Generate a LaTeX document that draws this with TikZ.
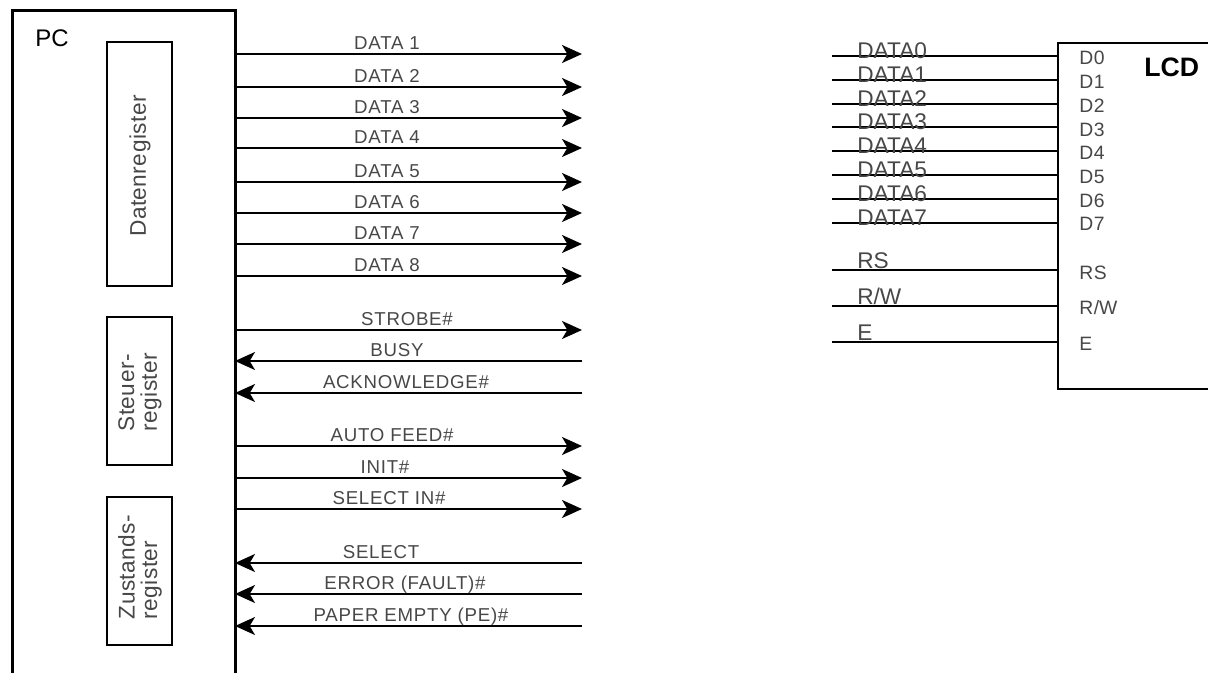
\documentclass[tikz,border=0pt]{standalone}
\usepackage{fontspec}
\setmainfont{Liberation Sans}
\usetikzlibrary{arrows.meta}
\begin{document}
\begin{tikzpicture}[x=0.75pt,y=-0.75pt,
  sig/.style={line width=1.5pt},
  outsig/.style={sig,-{Stealth[length=15pt,width=13.5pt,inset=4pt]}},
  insig/.style={sig,{Stealth[length=15pt,width=13.5pt,inset=4pt]}-},
  lbl/.style={inner sep=0pt,text=black!72,font=\fontsize{14}{16}\selectfont\addfontfeature{LetterSpace=4}},
  rlbl/.style={inner sep=0pt,anchor=base west,text=black!72,font=\fontsize{17}{19}\selectfont},
  pin/.style={inner sep=0pt,anchor=base west,text=black!72,font=\fontsize{14.5}{16}\selectfont\addfontfeature{LetterSpace=3}},
  regbox/.style={draw,line width=1.5pt},
  reglbl/.style={inner sep=0pt,rotate=90,align=left,text=black!72,font=\fontsize{17}{17}\selectfont\addfontfeature{LetterSpace=2}}]
\useasboundingbox (0,0) rectangle (1208,673);
% PC block
\draw[line width=2.25pt] (12,673) -- (12,11) -- (235,11) -- (235,673);
\node[inner sep=0pt,anchor=base west,font=\fontsize{18}{20}\selectfont] (pc) at (35,47) {PC};
% registers
\draw[regbox] (107,42) rectangle (172,286);
\node[reglbl] (dreg) at (140,166) {Datenregister};
\draw[regbox] (107,317) rectangle (172,465);
\node[reglbl] (sreg) at (140,392) {Steuer-\\register};
\draw[regbox] (107,497) rectangle (172,645);
\node[reglbl] (zreg) at (140,567) {Zustands-\\register};
% data lines
\foreach \y/\t [count=\i] in {54/DATA 1,87/DATA 2,118/DATA 3,148/DATA 4,182/DATA 5,213/DATA 6,244/DATA 7,276/DATA 8}{
  \coordinate (dl\i) at (235,\y);
  \coordinate (dr\i) at (582,\y);
  \draw[outsig] (dl\i) -- (dr\i);
  \node[lbl,anchor=base] (dt\i) at (387,\y-4) {\t};
}
% control and status lines
\foreach \y/\t/\c/\s [count=\i] in {
  330/STROBE\#/407/outsig,
  361/BUSY/397/insig,
  393/ACKNOWLEDGE\#/406/insig,
  446/AUTO FEED\#/392/outsig,
  478/INIT\#/385/outsig,
  509/SELECT IN\#/389/outsig,
  563/SELECT/381/insig,
  594/ERROR (FAULT)\#/405/insig,
  626/PAPER EMPTY (PE)\#/411/insig}{
  \coordinate (cl\i) at (235,\y);
  \coordinate (cr\i) at (582,\y);
  \draw[\s] (cl\i) -- (cr\i);
  \node[lbl,anchor=base] (ct\i) at (\c,\y-4) {\t};
}
% LCD block
\draw[line width=1.5pt] (1210,43) -- (1058,43) -- (1058,389) -- (1210,389);
\node[inner sep=0pt,anchor=base west,font=\bfseries\fontsize{20}{22}\selectfont] (lcd) at (1144,77) {LCD};
\foreach \y/\t [count=\i from 0] in {56/DATA0,80/DATA1,104/DATA2,127/DATA3,151/DATA4,175/DATA5,199/DATA6,223/DATA7}{
  \coordinate (ll\i) at (832,\y);
  \coordinate (lr\i) at (1058,\y);
  \draw[sig] (ll\i) -- (lr\i);
  \node[rlbl] (lt\i) at (857,\y+3) {\t};
  \node[pin] (p\i) at (1079,65+23.7*\i) {D\i};
}
\foreach \y/\t/\b [count=\i] in {270/RS/280,306/R\slash W/315,342/E/351}{
  \coordinate (ml\i) at (832,\y);
  \coordinate (mr\i) at (1058,\y);
  \draw[sig] (ml\i) -- (mr\i);
  \node[rlbl] (mt\i) at (857,\y-1) {\t};
  \node[pin] (mp\i) at (1079,\b) {\t};
}
\end{tikzpicture}
\end{document}
